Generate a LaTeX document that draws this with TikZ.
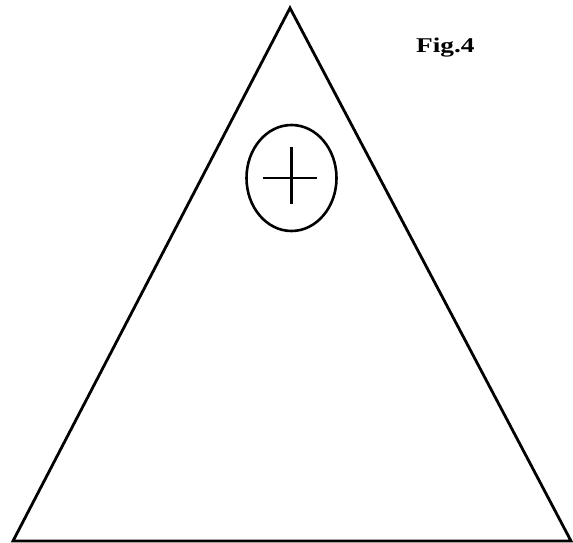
\documentclass[tikz,border=0pt]{standalone}
\usepackage{fontspec}
\setmainfont{Liberation Serif}
\usetikzlibrary{shapes.geometric}
\begin{document}
\begin{tikzpicture}[x=1pt,y=-1pt,
  shape line/.style={line width=2.8pt, line join=miter},
  thin line/.style={line width=2.2pt}]
\useasboundingbox (0,0) rectangle (573,543);
\coordinate (apex) at (290,8);
\coordinate (bl) at (13,541);
\coordinate (br) at (571,541);
\draw[shape line] (apex) -- (br) -- (bl) -- cycle;
\node[draw, ellipse, line width=2.6pt, minimum width=90, minimum height=106, inner sep=0] (circ) at (291.5,178) {};
\draw[thin line] ([xshift=-29pt]circ.center) -- ([xshift=25pt]circ.center);
\draw[thin line] ([yshift=-26pt]circ.center) -- ([yshift=31pt]circ.center);
\node[font=\fontsize{21}{21}\selectfont\bfseries, inner sep=0, anchor=base west] (fig) at (416,53) {\scalebox{1.3}[1]{Fig.4}};
\end{tikzpicture}
\end{document}
